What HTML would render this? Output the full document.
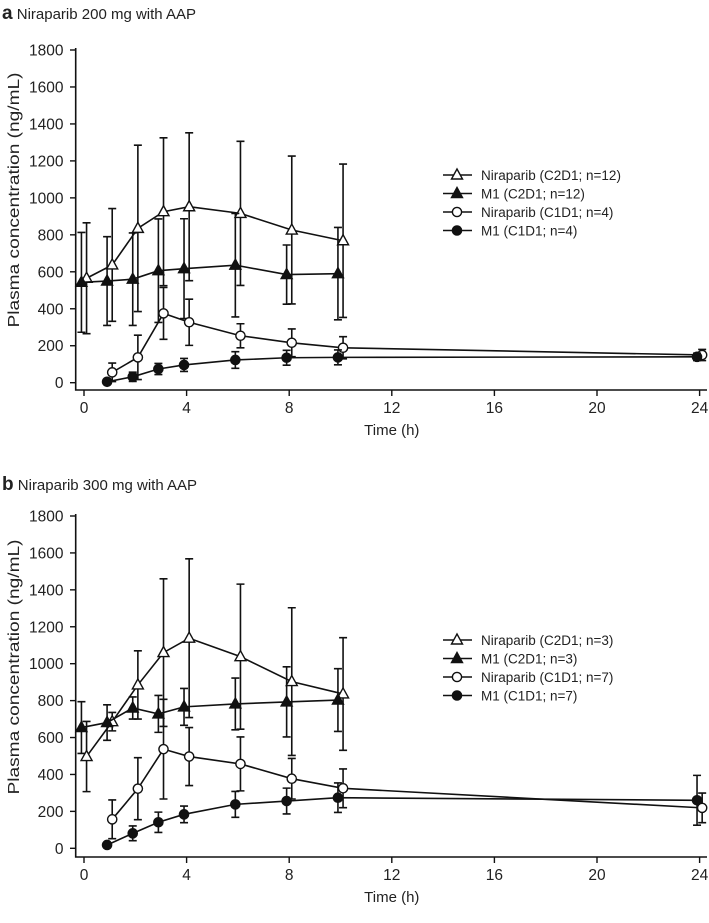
<!DOCTYPE html>
<html><head><meta charset="utf-8"><style>
body{margin:0;background:#fff;font-family:"Liberation Sans",Arial,sans-serif;}
svg text{font-family:"Liberation Sans",Arial,sans-serif;fill:#222;}
</style></head><body>
<svg id="fig" width="709" height="918"></svg>
<script>
const times = [0,1,2,3,4,6,8,10];
const timesC1 = [1,2,3,4,6,8,10,24];
const yTicks = [0,200,400,600,800,1000,1200,1400,1600,1800];
const xTicks = [0,4,8,12,16,20,24];
// Panel a
const aNirC2 = [565,637,835,925,952,916,826,768];
const aNirC2sd = [300,305,450,400,400,390,400,415];
const aM1C2 = [543,550,560,606,617,636,585,590];
const aM1C2sd = [270,240,250,280,270,280,160,250];
const aNirC1 = [56,137,375,327,254,216,189,150];
const aNirC1sd = [50,120,140,125,65,75,60,30];
const aM1C1 = [5,32,74,96,123,135,137,140];
const aM1C1sd = [5,25,30,35,45,40,40,20];
// Panel b
const bNirC2 = [497,686,885,1060,1138,1038,903,836];
const bNirC2sd = [190,50,185,400,430,393,400,305];
const bM1C2 = [654,681,760,728,766,782,793,803];
const bM1C2sd = [140,96,60,100,100,140,190,170];
const bNirC1 = [157,323,537,497,457,377,325,219];
const bNirC1sd = [105,168,270,157,146,110,105,80];
const bM1C1 = [18,81,141,184,238,256,274,260];
const bM1C1sd = [10,40,55,45,70,70,80,135];

const NS="http://www.w3.org/2000/svg";
const svg=document.getElementById('fig');
function mk(tag,attrs,parent){const e=document.createElementNS(NS,tag);for(const k in attrs)e.setAttribute(k,attrs[k]);(parent||svg).appendChild(e);return e;}

function panel(cfg){
  const g=mk('g',{});
  
  
  const x=t=>84+t*25.65;
  const y=v=>cfg.y0-v*cfg.k;
  const tt=mk('text',{x:2,y:cfg.titleY,'font-size':15},g);
  
  
  tt.innerHTML='<tspan font-weight="bold" font-size="19">'+cfg.id+'</tspan> '+cfg.title;
  const ax=mk('path',{d:`M75.7 ${y(1800)-2} V${cfg.xAxisY} H707`,stroke:'#111','stroke-width':1.6,fill:'none'},g);
  
  
  yTicks.forEach(v=>{
    mk('line',{x1:70,x2:75.7,y1:y(v),y2:y(v),stroke:'#111','stroke-width':1.4},g);
    const t=mk('text',{x:63.5,y:y(v)+5.5,'font-size':15.5,'text-anchor':'end'},g);
    
    
    t.textContent=v;
  });
  xTicks.forEach(v=>{
    mk('line',{x1:x(v),x2:x(v),y1:cfg.xAxisY,y2:cfg.xAxisY+6,stroke:'#111','stroke-width':1.4},g);
    const t=mk('text',{x:x(v),y:cfg.xAxisY+23,'font-size':15.5,'text-anchor':'middle'},g);
    
    
    t.textContent=v;
  });
  const xt=mk('text',{x:x(12),y:cfg.xAxisY+45,'font-size':15,'text-anchor':'middle'},g);
  
  
  xt.textContent='Time (h)';
  const cy=cfg.yTitleC;
  const yt=mk('text',{x:19,y:cy,'font-size':16,'text-anchor':'middle',textLength:255,lengthAdjust:'spacingAndGlyphs',transform:`rotate(-90 19 ${cy})`},g);
  
  
  yt.textContent='Plasma concentration (ng/mL)';
  cfg.series.forEach(s=>{
    const sg=mk('g',{},g);
    
    
    const pts=s.t.map((t,i)=>[x(t+s.off),y(s.v[i])]);
    let d='';
    s.t.forEach((t,i)=>{
      const px=x(t+s.off),lo=y(Math.max(0,s.v[i]-s.sd[i])),hi=y(s.v[i]+s.sd[i]);
      d+=`M${px} ${lo}V${hi}M${px-4} ${hi}H${px+4}M${px-4} ${lo}H${px+4}`;
    });
    mk('path',{d,stroke:'#111','stroke-width':1.6,fill:'none'},sg);
    mk('polyline',{points:pts.map(p=>p.join(',')).join(' '),stroke:'#111','stroke-width':1.6,fill:'none'},sg);
    pts.forEach(p=>marker(sg,s.m,p[0],p[1]));
  });
  cfg.series.forEach((s,i)=>{
    const ly=cfg.legY+i*18.5;
    const lg=mk('g',{},g);
    
    
    mk('line',{x1:443,x2:472,y1:ly,y2:ly,stroke:'#111','stroke-width':1.5},lg);
    marker(lg,s.m,457,ly);
    const t=mk('text',{x:481,y:ly+5,'font-size':13.5},lg);
    t.textContent=s.label;
  });
}
function marker(p,m,cx,cy){
  if(m==='ot'||m==='ft'){
    mk('path',{d:`M${cx} ${cy-6}L${cx+5.5} ${cy+4}L${cx-5.5} ${cy+4}Z`,fill:m==='ft'?'#111':'#fff',stroke:'#111','stroke-width':1.4},p);
  } else {
    mk('circle',{cx,cy,r:4.6,fill:m==='fc'?'#111':'#fff',stroke:'#111','stroke-width':1.4},p);
  }
}
panel({id:'a',title:'Niraparib 200 mg with AAP',titleY:19,y0:382.7,k:332.7/1800,xAxisY:390,legY:175,yTitleC:200,
  series:[
   {name:'niraparib-c2d1-series',label:'Niraparib (C2D1; n=12)',m:'ot',t:times,v:aNirC2,sd:aNirC2sd,off:0.1},
   {name:'m1-c2d1-series',label:'M1 (C2D1; n=12)',m:'ft',t:times,v:aM1C2,sd:aM1C2sd,off:-0.1},
   {name:'niraparib-c1d1-series',label:'Niraparib (C1D1; n=4)',m:'oc',t:timesC1,v:aNirC1,sd:aNirC1sd,off:0.1},
   {name:'m1-c1d1-series',label:'M1 (C1D1; n=4)',m:'fc',t:timesC1,v:aM1C1,sd:aM1C1sd,off:-0.1}]});
panel({id:'b',title:'Niraparib 300 mg with AAP',titleY:490,y0:848.3,k:332.3/1800,xAxisY:857,legY:640,yTitleC:667,
  series:[
   {name:'niraparib-c2d1-series',label:'Niraparib (C2D1; n=3)',m:'ot',t:times,v:bNirC2,sd:bNirC2sd,off:0.1},
   {name:'m1-c2d1-series',label:'M1 (C2D1; n=3)',m:'ft',t:times,v:bM1C2,sd:bM1C2sd,off:-0.1},
   {name:'niraparib-c1d1-series',label:'Niraparib (C1D1; n=7)',m:'oc',t:timesC1,v:bNirC1,sd:bNirC1sd,off:0.1},
   {name:'m1-c1d1-series',label:'M1 (C1D1; n=7)',m:'fc',t:timesC1,v:bM1C1,sd:bM1C1sd,off:-0.1}]});
</script>
</body></html>
